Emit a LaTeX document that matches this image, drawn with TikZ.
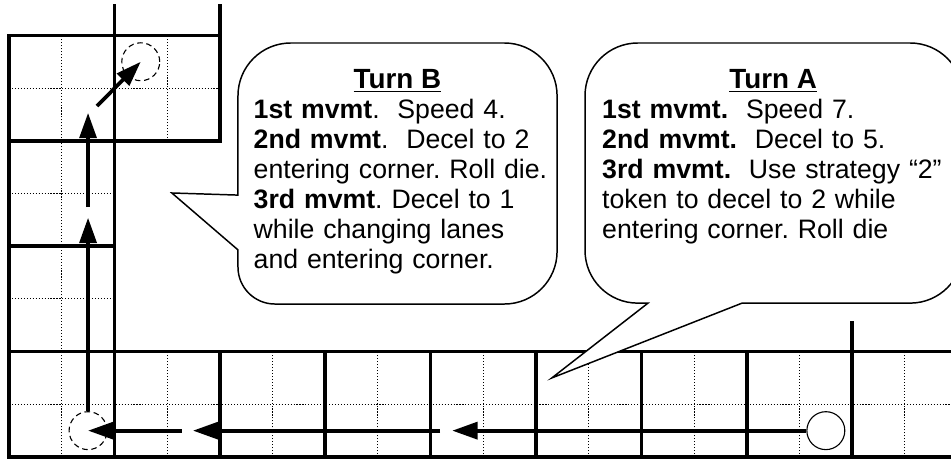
\documentclass[tikz,border=0pt]{standalone}
\usepackage{fontspec}
\setmainfont{Liberation Sans}
\usetikzlibrary{arrows.meta}

\begin{document}
\begin{tikzpicture}[
    wall/.style={line width=2pt, line cap=rect},
    lane/.style={line width=0.5pt, dash pattern=on 0.6pt off 1pt},
    move/.style={line width=2pt, -{Triangle[length=0.48cm,width=0.32cm]}},
    car/.style={circle, draw, fill=white, line width=0.6pt, minimum size=0.72cm, inner sep=0pt},
    ghost/.style={car, fill=none, dash pattern=on 3pt off 2pt},
    callout/.style={draw, fill=white, line width=0.8pt},
    txt/.style={font=\fontsize{14.4}{16.2}\selectfont\frenchspacing, inner sep=0pt},
    head/.style={font=\fontsize{15}{16.2}\selectfont, inner sep=0pt}]
  \useasboundingbox (-0.171,-0.019) rectangle (17.875,8.672);
  % Lanes
  \draw[lane] (0,1) -- (18,1);
  \foreach \x in {1,3,...,17} \draw[lane] (\x,0) -- (\x,2);
  \draw[lane] (1,2) -- (1,8);
  \draw[lane] (3,6) -- (3,8);
  \draw[lane] (0,3) -- (2,3);
  \draw[lane] (0,5) -- (2,5);
  \draw[lane] (0,7) -- (4,7);
  % Walls
  \draw[wall] (0,0) -- (18,0);
  \draw[wall] (0,2) -- (18,2);
  \foreach \x in {4,6,...,14,18} \draw[wall] (\x,0) -- (\x,2);
  \draw[wall] (16,0) -- (16,2.54);
  \draw[wall] (0,0) -- (0,8) -- (4,8);
  \draw[wall] (2,0) -- (2,8.56);
  \draw[wall] (4,6) -- (4,8.56);
  \draw[wall] (0,6) -- (4,6);
  \draw[wall] (0,4) -- (2,4);
  % Callouts
  \draw[callout] (7.37,7.856) [rounded corners=1cm] -- (4.345,7.856) [sharp corners]
    -- (4.345,4.97) -- (3.09,5.01) -- (4.345,3.93) [rounded corners=0.7cm]
    -- (4.345,2.903) [rounded corners=1cm] -- (10.40,2.903) -- (10.40,7.856) -- cycle;
  \draw[callout] (14.5,7.856) [rounded corners=1cm] -- (10.93,7.856) -- (10.93,2.92) [sharp corners]
    -- (12.125,2.92) -- (10.30,1.50) -- (13.91,2.92) [rounded corners=1cm]
    -- (18.1,2.92) -- (18.1,7.856) -- cycle;
  \node[head, anchor=base] (titleB) at (7.37,7.00) {\underline{\textbf{Turn B}}};
  \node[txt, anchor=base west, text width=6cm, align=left] (textB) at (4.636,6.427)
    {\textbf{1st mvmt}.\ \ Speed 4.\\
     \textbf{2nd mvmt}.\ \ Decel to 2\\
     entering corner. Roll die.\\
     \textbf{3rd mvmt}. Decel to 1\\
     while changing lanes\\
     and entering corner.};
  \node[head, anchor=base] (titleA) at (14.5,7.00) {\underline{\textbf{Turn A}}};
  \node[txt, anchor=base west, text width=6.5cm, align=left] (textA) at (11.25,6.427)
    {\textbf{1st mvmt.}\ \ Speed 7.\\
     \textbf{2nd mvmt.}\ \ Decel to 5.\\
     \textbf{3rd mvmt.}\ \ Use strategy “2”\\
     token to decel to 2 while\\
     entering corner. Roll die};
  % Cars
  \node[car] (carA) at (15.5,0.5) {};
  \node[ghost] (carB1) at (1.5,0.5) {};
  \node[ghost] (carB2) at (2.5,7.5) {};
  \coordinate (m1) at (8.41,0.5);
  \coordinate (m2) at (8.18,0.5);
  \coordinate (m3) at (3.49,0.5);
  \coordinate (m4) at (3.28,0.5);
  \coordinate (m5) at (1.5,4.54);
  \coordinate (m6) at (1.5,4.74);
  \coordinate (m7) at (1.5,6.53);
  \coordinate (m8) at (1.67,6.66);
  % Movements
  \draw[move] (carA) -- (m1);
  \draw[move] (m2) -- (m3);
  \draw[move] (m4) -- (carB1.center);
  \draw[move] (carB1) -- (m5);
  \draw[move] (m6) -- (m7);
  \draw[move] (m8) -- (carB2.center);
\end{tikzpicture}
\end{document}
